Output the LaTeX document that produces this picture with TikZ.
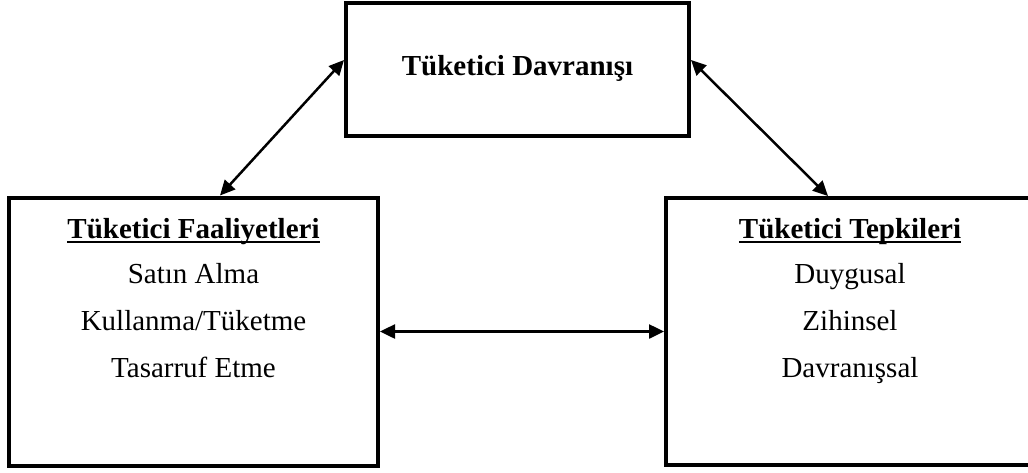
\documentclass[tikz,border=0pt]{standalone}
\usepackage{fontspec}
\setmainfont{Liberation Serif}
\usetikzlibrary{arrows.meta}
\begin{document}
\begin{tikzpicture}[x=1pt,y=-1pt,
  box/.style={draw,line width=4pt,rectangle,inner sep=0pt},
  txt/.style={font=\fontsize{29}{34}\selectfont,inner sep=0pt,anchor=base},
  hd/.style={txt,font=\fontsize{29}{34}\selectfont\bfseries},
  uline/.style={line width=2pt},
  link/.style={line width=2.5pt,{Triangle[length=15pt,width=14pt]}-{Triangle[length=15pt,width=14pt]}}]
\useasboundingbox (0,0) rectangle (1028,472);
\node[box,minimum width=343pt,minimum height=133pt] (top) at (517.5,69) {};
\node[box,minimum width=369pt,minimum height=268pt] (left) at (193.5,331.5) {};
\node[box,minimum width=368pt,minimum height=267pt] (right) at (850,331.5) {};
% texts
\node[hd] (tt) at (517.5,75) {Tüketici Davranışı};
\node[hd] (lh) at (193.5,238) {Tüketici Faaliyetleri};
\node[txt] (l1) at (193.5,283) {Satın Alma};
\node[txt] (l2) at (193.5,330) {Kullanma/Tüketme};
\node[txt] (l3) at (193.5,377) {Tasarruf Etme};
\node[hd] (rh) at (850,238) {Tüketici Tepkileri};
\node[txt] (r1) at (850,283) {Duygusal};
\node[txt] (r2) at (850,330) {Zihinsel};
\node[txt] (r3) at (850,377) {Davranışsal};
\draw[uline] ([yshift=-4pt]lh.base west) -- ([yshift=-4pt]lh.base east);
\draw[uline] ([yshift=-4pt]rh.base west) -- ([yshift=-4pt]rh.base east);
% connectors
\draw[link] ([yshift=9pt]top.west) -- ([xshift=26.5pt]left.north);
\draw[link] ([yshift=9pt]top.east) -- ([xshift=-22pt]right.north);
\draw[link] (left.east) -- (right.west);
\end{tikzpicture}
\end{document}
